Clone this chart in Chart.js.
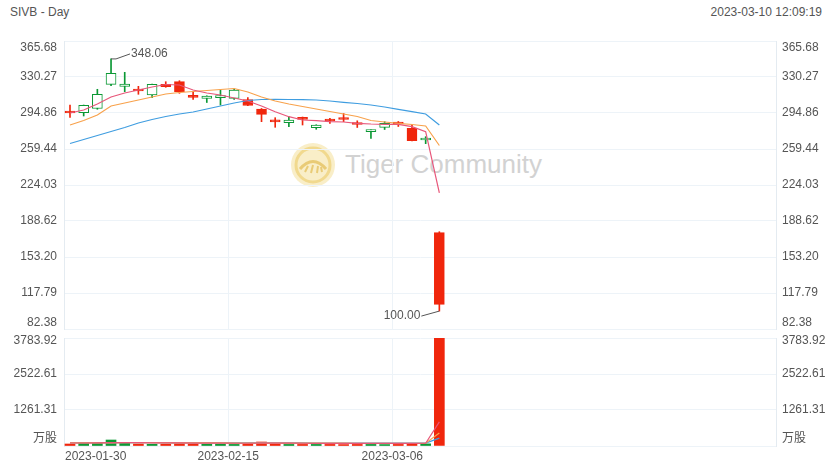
<!DOCTYPE html>
<html>
<head>
<meta charset="utf-8">
<script src="https://cdn.jsdelivr.net/npm/chart.js@4.4.1/dist/chart.umd.min.js"></script>
<style>
html,body{margin:0;padding:0;background:#fff;width:840px;height:470px;overflow:hidden;font-family:"Liberation Sans",Arial,"Noto Sans CJK SC",sans-serif;}
#title{position:absolute;left:10px;top:5px;font-size:12px;line-height:14px;color:#555;}
#time{position:absolute;right:18px;top:5px;font-size:12px;line-height:14px;color:#555;}
#wm{position:absolute;left:290px;top:142px;width:280px;height:46px;}
#wm svg{position:absolute;left:0;top:0;}
#wm span{position:absolute;left:55px;top:6px;font-size:26px;line-height:32px;color:#d2d2d2;white-space:nowrap;}
#pa{position:absolute;left:0;top:0;}
#pb{position:absolute;left:0;top:335px;}
</style>
</head>
<body>
<div id="title">SIVB - Day</div>
<div id="time">2023-03-10 12:09:19</div>
<div id="wm">
  <svg width="46" height="46" viewBox="0 0 46 46">
    <circle cx="23" cy="23" r="22" fill="#f9eec8"/>
    <circle cx="23" cy="23" r="17" fill="none" stroke="#f1d98e" stroke-width="3"/>
    <path d="M10 27 Q23 12 36 27" fill="none" stroke="#e9cb76" stroke-width="3"/>
    <path d="M15 30 L18 24 M21 31 L23 23 M27 31 L28 24 M32 30 L31 25" stroke="#e9cb76" stroke-width="2"/>
  </svg>
  <span>Tiger Community</span>
</div>
<canvas id="pa" width="840" height="335"></canvas>
<canvas id="pb" width="840" height="135"></canvas>
<script>
// ---------- data ----------
const dates = ['2023-01-30','2023-01-31','2023-02-01','2023-02-02','2023-02-03','2023-02-06','2023-02-07','2023-02-08','2023-02-09','2023-02-10','2023-02-13','2023-02-14','2023-02-15','2023-02-16','2023-02-17','2023-02-21','2023-02-22','2023-02-23','2023-02-24','2023-02-27','2023-02-28','2023-03-01','2023-03-02','2023-03-03','2023-03-06','2023-03-07','2023-03-08','2023-03-09'];
const opens  = [295.84,295.15,299.28,323.09,321.12,316.99,312.56,323.09,325.64,310.89,309.32,309.91,309.32,308.13,298.79,286.69,285.31,290.63,280.40,287.48,288.95,285.51,276.46,280.79,284.53,279.81,268.30,177.11];
const highs  = [302.72,302.70,318.17,348.06,334.89,321.12,323.30,325.64,326.63,315.51,311.80,317.48,318.46,310.10,299.28,290.23,291.21,290.90,283.30,289.64,294.36,287.18,278.30,286.30,286.50,282.76,271.54,178.10];
const lows   = [290.43,291.90,298.50,321.71,315.81,313.25,309.91,320.14,314.23,308.13,305.18,302.72,308.13,302.00,286.30,280.79,281.38,283.05,278.82,284.72,286.30,280.60,269.97,278.62,281.58,267.40,264.66,100.00];
const closes = [294.85,302.43,313.25,333.91,323.38,316.50,323.09,320.73,315.81,310.30,311.58,311.58,317.48,302.23,293.58,286.20,287.97,288.66,283.05,286.99,288.46,283.54,278.13,284.72,284.04,267.61,268.79,106.68];
const ma5  = [294.85,297.81,303.71,310.59,314.53,317.48,320.43,322.89,322.40,317.48,314.53,312.56,309.61,306.66,301.74,296.13,291.21,287.97,287.28,286.30,286.00,284.72,284.03,283.74,283.74,281.38,276.46,216.20];
const ma10 = [283.05,287.48,292.89,301.74,304.69,307.64,310.59,313.54,315.02,316.00,316.99,317.97,318.96,315.51,310.59,306.66,303.71,301.25,298.79,296.33,293.87,291.41,287.48,286.00,284.72,283.54,282.07,262.89];
const ma20 = [264.85,268.79,272.72,276.66,280.59,285.02,288.46,291.41,293.87,295.84,298.79,301.74,304.69,307.15,308.13,308.33,308.13,307.94,307.64,306.66,305.38,304.20,302.72,300.76,298.49,296.13,293.87,283.05];
const volumes = [70,95,95,210,95,70,60,60,80,70,60,60,55,60,140,60,55,55,55,55,50,55,55,50,55,80,75,3783.92];
const vma5  = [105,105,108,115,118,116,112,110,108,104,100,98,96,96,100,100,98,96,95,94,92,92,92,92,92,95,98,846];
const vma10 = [108,108,109,112,114,114,113,112,111,110,108,106,104,103,104,103,102,101,100,99,98,97,97,96,96,97,98,452];
const vma20 = [110,110,111,112,113,113,113,112,112,111,111,110,109,108,108,107,106,106,105,104,103,103,102,102,101,101,101,278];
const priceTicks = [82.38,117.79,153.20,188.62,224.03,259.44,294.86,330.27,365.68];
const priceTickLabels = ['82.38','117.79','153.20','188.62','224.03','259.44','294.86','330.27','365.68'];
const volTicks = [0,1261.31,2522.61,3783.92];
const volTickLabels = ['万股','1261.31','2522.61','3783.92'];
const xLabelDates = ['2023-01-30','2023-02-15','2023-03-06'];

// ---------- style ----------
const RED = '#f0260c', GREEN = '#0b9834';
const C_MA5 = '#e8577a', C_MA10 = '#f8a24c', C_MA20 = '#3f9de0';
const GRID = '#edf3f8', BORDER = '#e4ebf1', TEXT = '#555';
const FONT = '12px "Liberation Sans", Arial, "Noto Sans CJK SC", sans-serif';
const X_MIN = -0.4386, X_MAX = 51.61;

const up = closes.map((c,i)=>c >= opens[i]);
const xGrid = xLabelDates.map(d => dates.indexOf(d) + X_MIN);

function xScale(){
  return {
    type:'linear', min:X_MIN, max:X_MAX, offset:false,
    afterBuildTicks: s => { s.ticks = xGrid.map(v=>({value:v})); },
    ticks:{display:false},
    grid:{color:GRID, drawTicks:false, lineWidth:1, offset:false},
    border:{display:false},
    afterFit: s => { s.height = 0; }
  };
}
function yScale(pos, min, max, ticks, showGrid){
  return {
    type:'linear', position:pos, min, max,
    afterBuildTicks: s => { s.ticks = ticks.map(v=>({value:v})); },
    ticks:{display:false},
    grid:{display:showGrid, color:GRID, drawTicks:false},
    border:{display:true, color:BORDER},
    afterFit: s => { s.width = 64; }
  };
}

const axisLabels = {
  id:'axisLabels',
  afterDraw(chart, args, o){
    const {ctx, chartArea:a} = chart;
    const ys = chart.scales.y;
    ctx.save();
    ctx.font = FONT; ctx.fillStyle = TEXT; ctx.textBaseline = 'middle';
    o.values.forEach((v,k)=>{
      let y = ys.getPixelForValue(v);
      y = Math.max(y, a.top + o.topPad);
      y = Math.min(y, a.bottom - o.bottomPad);
      ctx.textAlign = 'right'; ctx.fillText(o.labels[k], a.left - 7, y);
      ctx.textAlign = 'left';  ctx.fillText(o.labels[k], a.right + 6, y);
    });
    if (o.xLabels){
      const xs = chart.scales.x;
      ctx.textAlign = 'center';
      o.xLabels.forEach(d=>{
        const idx = dates.indexOf(d);
        const w = ctx.measureText(d).width;
        let x = xs.getPixelForValue(idx + X_MIN);
        x = Math.max(x, a.left + 1 + w/2);
        ctx.fillText(d, x, a.bottom + 11);
      });
    }
    ctx.restore();
  }
};

const extremes = {
  id:'extremes',
  afterDatasetsDraw(chart){
    const {ctx} = chart;
    const xs = chart.scales.x, ys = chart.scales.y;
    let hi = 0, lo = 0;
    highs.forEach((v,i)=>{ if (v > highs[hi]) hi = i; });
    lows.forEach((v,i)=>{ if (v < lows[lo]) lo = i; });
    ctx.save();
    ctx.font = FONT; ctx.fillStyle = TEXT; ctx.strokeStyle = '#555'; ctx.lineWidth = 1;
    ctx.textBaseline = 'middle';
    let x = xs.getPixelForValue(hi), y = ys.getPixelForValue(highs[hi]);
    ctx.beginPath(); ctx.moveTo(x, y); ctx.lineTo(x+5, y); ctx.lineTo(x+19, y-5); ctx.stroke();
    ctx.textAlign = 'left'; ctx.fillText(highs[hi].toFixed(2), x+20, y-5);
    x = xs.getPixelForValue(lo); y = ys.getPixelForValue(lows[lo]);
    ctx.beginPath(); ctx.moveTo(x, y); ctx.lineTo(x-18, y+5); ctx.stroke();
    ctx.textAlign = 'right'; ctx.fillText(lows[lo].toFixed(2), x-19, y+5);
    ctx.restore();
  }
};

const line = (arr, color, ord) => ({
  type:'line', data: arr.map((v,i)=>({x:i, y:v})), borderColor:color, borderWidth:1.2,
  pointRadius:0, fill:false, tension:0, order:ord
});

new Chart(document.getElementById('pa'), {
  type:'bar',
  data:{ datasets:[
    line(ma5, C_MA5, -3), line(ma10, C_MA10, -2), line(ma20, C_MA20, -1),
    { data: opens.map((o,i)=>({x:i, y:[o, closes[i]]})),
      backgroundColor: up.map(u=>u ? '#ffffff' : RED),
      borderColor: up.map(u=>u ? GREEN : RED),
      borderWidth:1, borderSkipped:false, barThickness:10, minBarLength:2, grouped:false, order:0 },
    { data: lows.map((l,i)=>({x:i, y:[l, highs[i]]})),
      backgroundColor: up.map(u=>u ? GREEN : RED),
      borderWidth:0, barThickness:1, grouped:false, order:1 }
  ]},
  options:{
    responsive:false, animation:false, events:[],
    layout:{padding:{top:41, bottom:6, left:0, right:0}},
    plugins:{legend:{display:false}, tooltip:{enabled:false},
      axisLabels:{values:priceTicks, labels:priceTickLabels, topPad:7, bottomPad:6}},
    scales:{
      x: xScale(),
      y: yScale('left', priceTicks[0], priceTicks[priceTicks.length-1], priceTicks, true),
      y2: yScale('right', priceTicks[0], priceTicks[priceTicks.length-1], priceTicks, false)
    }
  },
  plugins:[axisLabels, extremes]
});

new Chart(document.getElementById('pb'), {
  type:'bar',
  data:{ datasets:[
    line(vma5, C_MA5, -3), line(vma10, C_MA10, -2), line(vma20, C_MA20, -1),
    { data: volumes.map((v,i)=>({x:i, y:v})),
      backgroundColor: up.map(u=>u ? GREEN : RED),
      borderWidth:0, barThickness:10, grouped:false, order:0 }
  ]},
  options:{
    responsive:false, animation:false, events:[],
    layout:{padding:{top:3, bottom:24, left:0, right:0}},
    plugins:{legend:{display:false}, tooltip:{enabled:false},
      axisLabels:{values:volTicks, labels:volTickLabels, topPad:3, bottomPad:7, xLabels:xLabelDates}},
    scales:{
      x: xScale(),
      y: yScale('left', volTicks[0], volTicks[volTicks.length-1], volTicks, true),
      y2: yScale('right', volTicks[0], volTicks[volTicks.length-1], volTicks, false)
    }
  },
  plugins:[axisLabels]
});
</script>
</body>
</html>
